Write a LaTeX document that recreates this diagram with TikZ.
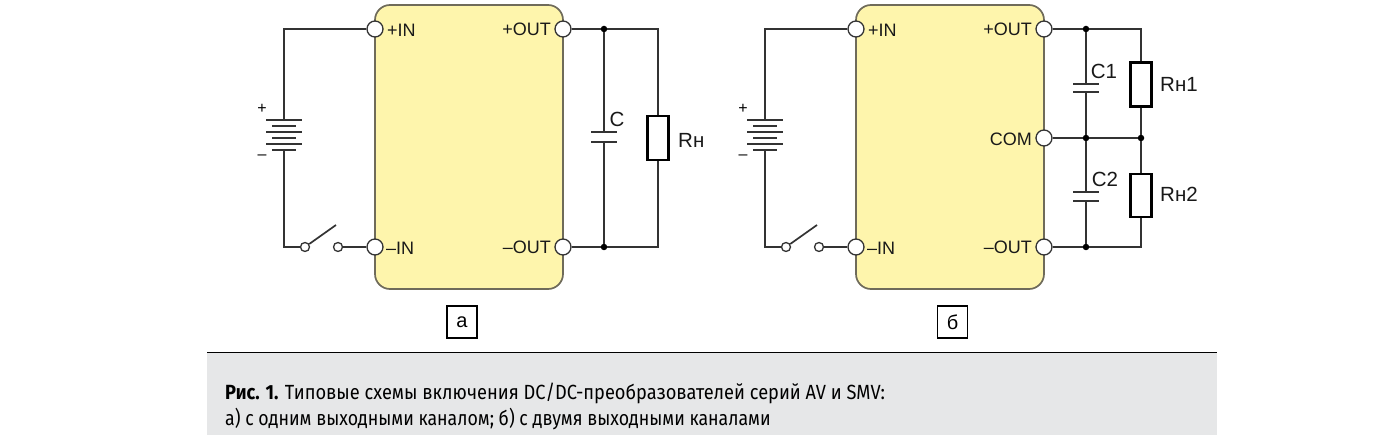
\documentclass[tikz,border=0pt]{standalone}
\usepackage{fontspec}
\usepackage{xcolor}
\setmainfont{Liberation Sans}
\newfontfamily\capfont[FakeStretch=0.89]{Fira Sans}
\newfontfamily\capfontnarrow[FakeStretch=0.865]{Fira Sans}
\usetikzlibrary{positioning}
\definecolor{BlockFill}{HTML}{FEF5AC}
\definecolor{BlockLine}{HTML}{6F6B5A}
\definecolor{WireLine}{HTML}{333333}
\definecolor{CapFill}{HTML}{E6E7E8}
\tikzset{
  wire/.style   = {draw=WireLine, line width=1.7pt},
  block/.style  = {draw=BlockLine, fill=BlockFill, line width=1.7pt, rounded corners=15pt},
  pin/.style    = {circle, draw=WireLine, fill=white, line width=1.3pt, inner sep=0pt, minimum size=16pt},
  contact/.style = {circle, draw=WireLine, fill=white, line width=1.3pt, inner sep=0pt, minimum size=9pt},
  joint/.style  = {circle, fill=black, inner sep=0pt, minimum size=6.5pt},
  plate/.style  = {fill=WireLine, inner sep=0pt, minimum height=1.7pt},
  load/.style   = {draw=black, fill=white, line width=2.2pt, inner sep=0pt, minimum width=21pt},
  pinlabel/.style = {font=\fontsize{18}{18}\selectfont, text=black!90, inner sep=0pt},
  partlabel/.style = {pinlabel, font=\fontsize{20.5}{20.5}\selectfont},
  tag/.style    = {draw=black, line width=1.2pt, minimum width=30pt, minimum height=32pt, inner sep=0pt,
                   font=\fontsize{20}{20}\selectfont}
}

\begin{document}
\begin{tikzpicture}[x=1pt, y=-1pt]
\useasboundingbox (0,0) rectangle (1374,435);

% caption
\fill[CapFill] (207,353) rectangle (1217,435);
\draw[black, line width=1pt] (207,353) -- (1217,353);
\node[anchor=base west, inner sep=0pt, font=\capfont\fontsize{20.5}{20.5}\selectfont] (cap1) at (225,400)
  {\textbf{Рис. 1.} Типовые схемы включения DC/DC-преобразователей серий AV и SMV:};
\node[anchor=base west, inner sep=0pt, font=\capfontnarrow\fontsize{20.5}{20.5}\selectfont] (cap2) at (225,426)
  {а) с одним выходными каналом; б) с двумя выходными каналами};

% the input side is the same in both circuits
\foreach \side/\dx in {a/0,b/481}{
  \draw[block] (375+\dx,5) rectangle (563+\dx,289);
  \node[pin] (\side inp) at (375+\dx,29) {};
  \node[pin] (\side inm) at (375+\dx,247) {};
  \node[pin] (\side outp) at (563+\dx,29) {};
  \node[pin] (\side outm) at (563+\dx,247) {};
  \node[pinlabel, anchor=west] (\side linp) at (387+\dx,30) {+IN};
  \node[pinlabel, anchor=west] (\side linm) at (386+\dx,248) {--IN};
  \node[pinlabel, anchor=east] (\side loutp) at (551+\dx,29) {+OUT};
  \node[pinlabel, anchor=east] (\side loutm) at (551+\dx,247) {--OUT};
  % battery
  \foreach \n/\yy/\len in {1/120/36,2/126/24,3/132/36,4/138/24,5/144/36,6/150/24}
    \node[plate, minimum width=\len pt] (\side bat\n) at (284+\dx,\yy) {};
  \node[inner sep=0pt, font=\fontsize{16}{16}\selectfont] (\side plus) at (262+\dx,109) {+};
  \node[inner sep=0pt, font=\fontsize{16}{16}\selectfont] (\side minus) at (262+\dx,157) {--};
  % switch
  \node[contact] (\side swa) at (305+\dx,247) {};
  \node[contact] (\side swb) at (338+\dx,247) {};
  \coordinate (\side arm) at (336+\dx,225);
  \coordinate (\side ctop) at (284+\dx,29);
  \coordinate (\side cbot) at (284+\dx,247);
  \draw[wire] (\side inp) -- (\side ctop) -- (\side bat1.north);
  \draw[wire] (\side bat6.south) -- (\side cbot) -- (\side swa);
  \draw[wire] (\side swa) -- (\side arm);
  \draw[wire] (\side swb) -- (\side inm);
}

% output a
\node[joint] (atop) at (604,29) {};
\node[joint] (abot) at (604,247) {};
\node[plate, minimum width=26pt] (cupper) at (604,132) {};
\node[plate, minimum width=26pt] (clower) at (604,142) {};
\node[load, minimum height=44pt] (rload) at (658,138) {};
\coordinate (artop) at (658,29);
\coordinate (arbot) at (658,247);
\draw[wire] (aoutp) -- (atop) -- (artop) -- (rload);
\draw[wire] (aoutm) -- (abot) -- (arbot) -- (rload);
\draw[wire] (atop) -- (cupper);
\draw[wire] (abot) -- (clower);
\node[partlabel] (lc) at (617,119) {C};
\node[partlabel, anchor=west] (lr) at (678,140) {Rн};

% output b
\node[pin] (bcom) at (1044,138) {};
\node[pinlabel, anchor=east] (lcom) at (1032,139) {COM};
\node[joint] (btop) at (1086,29) {};
\node[joint] (bmid) at (1086,138) {};
\node[joint] (bbot) at (1086,247) {};
\node[joint] (bright) at (1141,138) {};
\node[plate, minimum width=26pt] (c1upper) at (1086,84) {};
\node[plate, minimum width=26pt] (c1lower) at (1086,92) {};
\node[plate, minimum width=26pt] (c2upper) at (1086,192) {};
\node[plate, minimum width=26pt] (c2lower) at (1086,201) {};
\node[load, minimum height=44pt] (rone) at (1141,84.5) {};
\node[load, minimum height=43pt] (rtwo) at (1141,195.5) {};
\coordinate (brtop) at (1141,29);
\coordinate (brbot) at (1141,247);
\draw[wire] (boutp) -- (btop) -- (brtop) -- (rone);
\draw[wire] (boutm) -- (bbot) -- (brbot) -- (rtwo);
\draw[wire] (bcom) -- (bmid) -- (bright);
\draw[wire] (rone) -- (bright) -- (rtwo);
\draw[wire] (btop) -- (c1upper);
\draw[wire] (c1lower) -- (bmid) -- (c2upper);
\draw[wire] (c2lower) -- (bbot);
\node[partlabel] (lc1) at (1104,71) {C1};
\node[partlabel] (lc2) at (1105,179) {C2};
\node[partlabel, anchor=west] (lr1) at (1160,84) {Rн1};
\node[partlabel, anchor=west] (lr2) at (1160,194) {Rн2};

% tags
\node[tag] (taga) at (462,322) {а};
\node[tag] (tagb) at (952.5,322) {б};
\end{tikzpicture}
\end{document}
